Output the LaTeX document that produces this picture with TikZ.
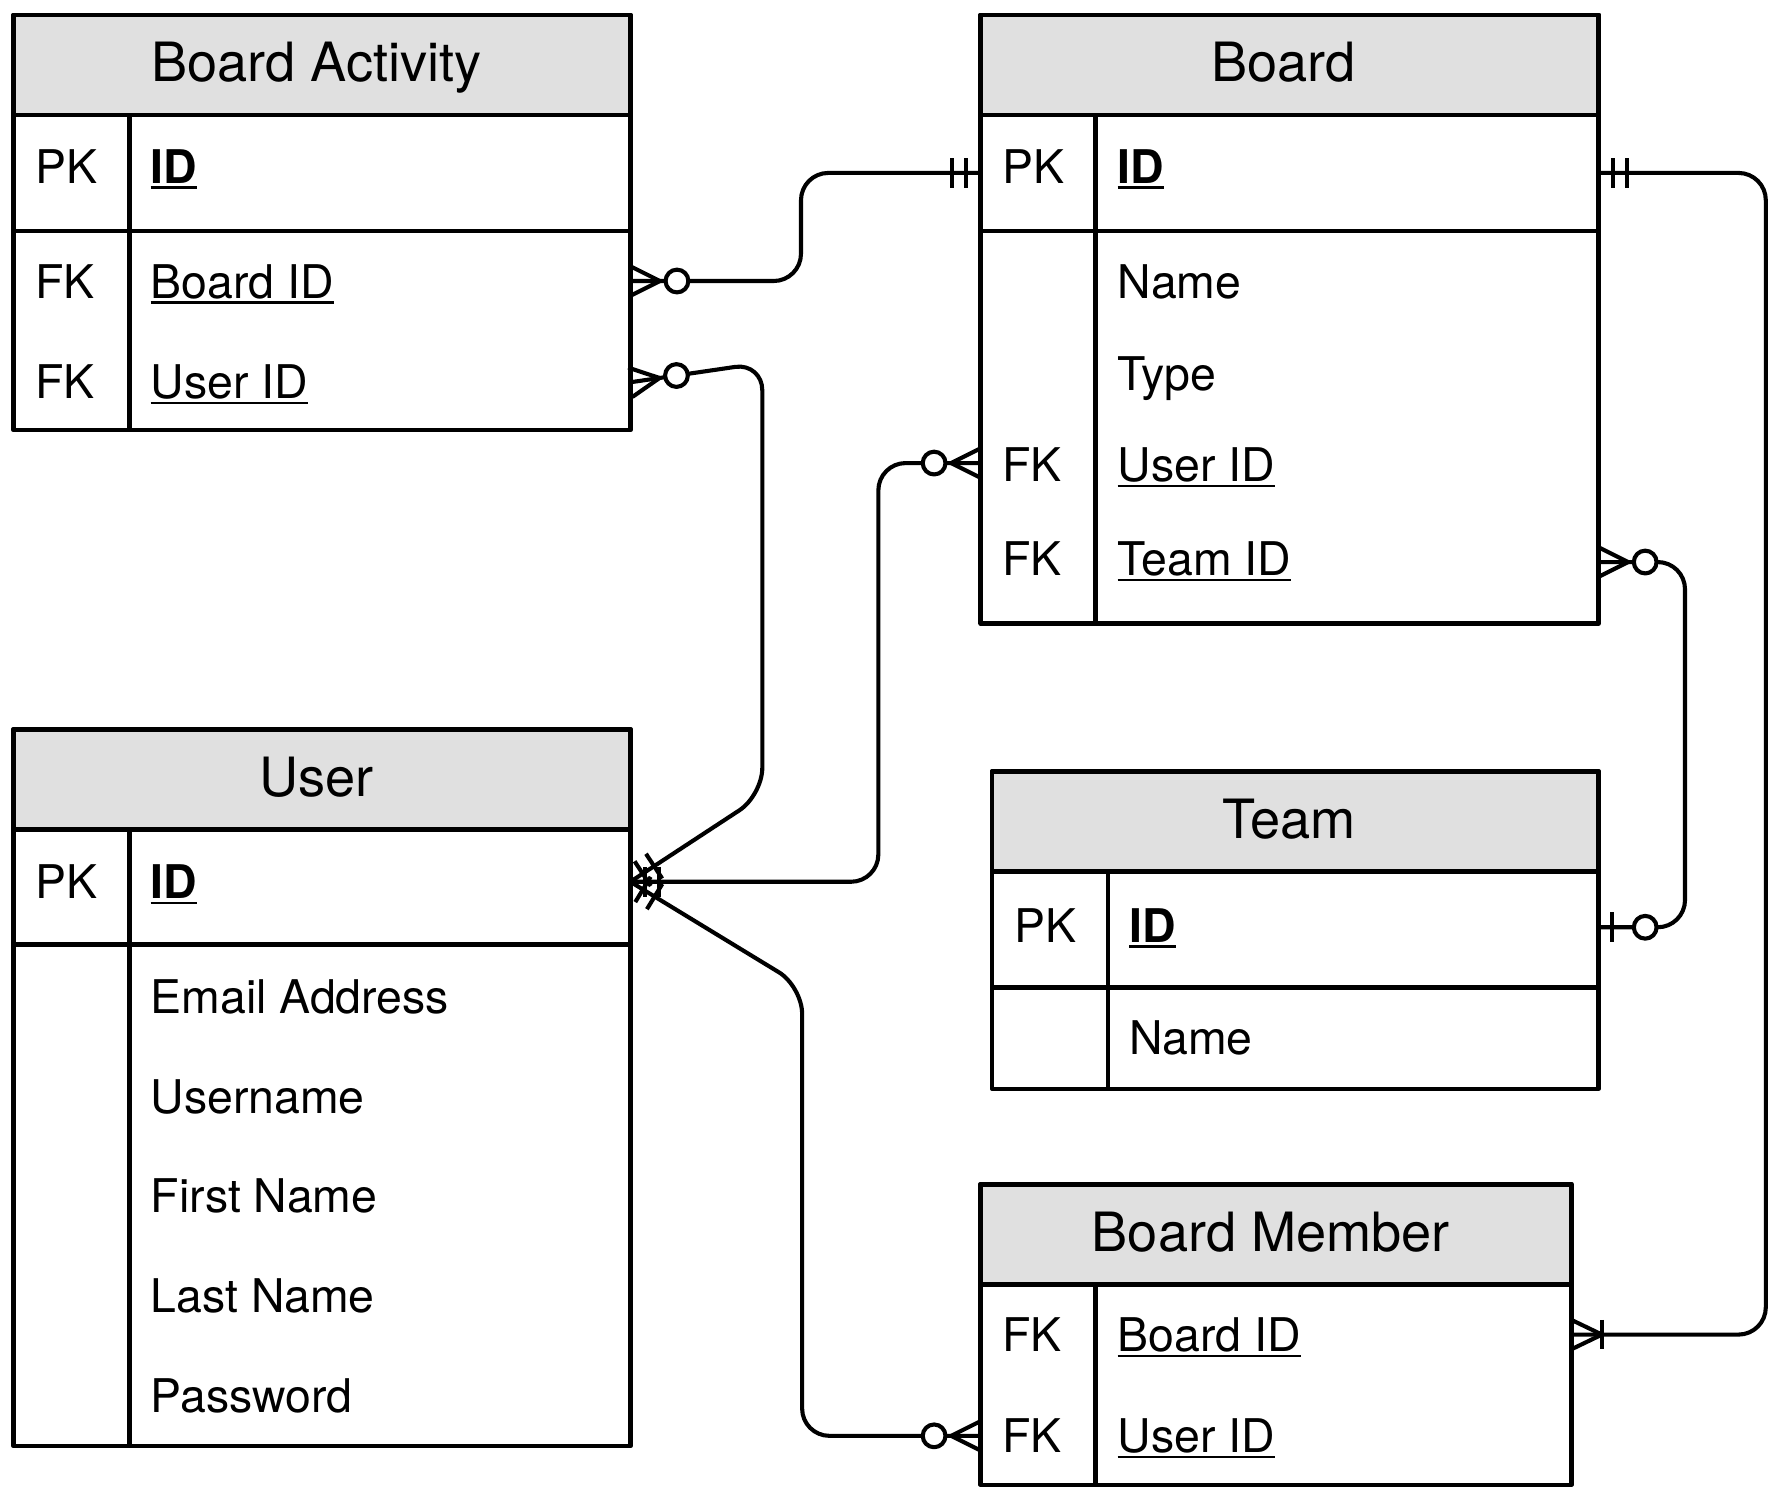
\documentclass[tikz,border=0pt]{standalone}
\usepackage{fontspec}
\setmainfont{TeX Gyre Heros}
\usetikzlibrary{calc}
\definecolor{hdrgray}{RGB}{224,224,224}
\newcommand{\myul}[1]{\setbox0\hbox{#1}\rlap{\rule[-2.5pt]{\wd0}{1.05pt}}\box0}
\newcommand{\crowft}[3]{%
  \draw[mk] ($(#1)!6.5pt!90:(#2)$) -- ($(#1)!#3!(#2)$) -- ($(#1)!6.5pt!-90:(#2)$);}
\newcommand{\barmk}[3]{%
  \path ($(#1)!#3!(#2)$) coordinate (mkp);
  \draw[mk] ($(mkp)!6.5pt!90:(#2)$) -- ($(mkp)!6.5pt!-90:(#2)$);}
\newcommand{\ringmk}[3]{%
  \path ($(#1)!#3!(#2)$) coordinate (mkp);
  \draw[ring] (mkp) circle[radius=5pt];}
\begin{document}
\begin{tikzpicture}[x=0.5pt,y=-0.5pt,line join=round,
  box/.style={draw=black, line width=2pt, inner sep=0pt, outer sep=0pt},
  hdr/.style={box, fill=hdrgray},
  rowline/.style={line width=2pt},
  htxt/.style={anchor=base, inner sep=0pt, font=\fontsize{23.8}{28}\selectfont},
  ftxt/.style={anchor=base west, inner sep=0pt, font=\fontsize{20.4}{24}\selectfont},
  conn/.style={line width=1.8pt, rounded corners=12pt},
  mk/.style={line width=1.8pt},
  ring/.style={line width=1.8pt, fill=white}]
\useasboundingbox[fill=white] (0,0) rectangle (1568,1320);

% ---------------- Board Activity
\node[box, minimum width=271pt, minimum height=182.5pt] (ba) at (283,195.5) {};
\node[hdr, minimum width=271pt, minimum height=44pt] (baH) at (283,57) {};
\node[htxt] (baT) at (278,72) {Board Activity};
\draw[rowline] (12,203) -- (554,203);
\draw[rowline] (114,101) -- (114,378);
\node[ftxt] (baK1) at (30.5,161) {PK};
\node[ftxt] (baF1) at (132,161) {\myul{\textbf{ID}}};
\node[ftxt] (baK2) at (30.5,262) {FK};
\node[ftxt] (baF2) at (132,262) {\myul{Board ID}};
\node[ftxt] (baK3) at (30.5,350) {FK};
\node[ftxt] (baF3) at (132,350) {\myul{User ID}};

% ---------------- Board
\node[box, minimum width=271.5pt, minimum height=267.5pt] (bd) at (1133.5,280.5) {};
\node[hdr, minimum width=271.5pt, minimum height=44pt] (bdH) at (1133.5,57) {};
\node[htxt] (bdT) at (1128,72) {Board};
\draw[rowline] (862,203) -- (1405,203);
\draw[rowline] (963,101) -- (963,548);
\node[ftxt] (bdK1) at (880.5,161) {PK};
\node[ftxt] (bdF1) at (982,161) {\myul{\textbf{ID}}};
\node[ftxt] (bdF2) at (982,262) {Name};
\node[ftxt] (bdF3) at (982,343) {Type};
\node[ftxt] (bdK4) at (880.5,423) {FK};
\node[ftxt] (bdF4) at (982,423) {\myul{User ID}};
\node[ftxt] (bdK5) at (880.5,506) {FK};
\node[ftxt] (bdF5) at (982,506) {\myul{Team ID}};

% ---------------- User
\node[box, minimum width=271pt, minimum height=315pt] (us) at (283,956) {};
\node[hdr, minimum width=271pt, minimum height=44pt] (usH) at (283,685) {};
\node[htxt] (usT) at (278.5,700) {User};
\draw[rowline] (12,830) -- (554,830);
\draw[rowline] (114,729) -- (114,1271);
\node[ftxt] (usK1) at (30.5,789.5) {PK};
\node[ftxt] (usF1) at (132,789.5) {\myul{\textbf{ID}}};
\node[ftxt] (usF2) at (132,890.5) {Email Address};
\node[ftxt] (usF3) at (132,978.5) {Username};
\node[ftxt] (usF4) at (132,1066) {First Name};
\node[ftxt] (usF5) at (132,1153.5) {Last Name};
\node[ftxt] (usF6) at (132,1241.5) {Password};

% ---------------- Team
\node[box, minimum width=266.5pt, minimum height=139.5pt] (tm) at (1138.5,817.5) {};
\node[hdr, minimum width=266.5pt, minimum height=44pt] (tmH) at (1138.5,722) {};
\node[htxt] (tmT) at (1133,737) {Team};
\draw[rowline] (872,868) -- (1405,868);
\draw[rowline] (974,766) -- (974,957);
\node[ftxt] (tmK1) at (891.5,828) {PK};
\node[ftxt] (tmF1) at (992,828) {\myul{\textbf{ID}}};
\node[ftxt] (tmF2) at (992,927) {Name};

% ---------------- Board Member
\node[box, minimum width=259.5pt, minimum height=132pt] (bm) at (1121.5,1173) {};
\node[hdr, minimum width=259.5pt, minimum height=44pt] (bmH) at (1121.5,1085) {};
\node[htxt] (bmT) at (1117,1100) {Board Member};
\draw[rowline] (963,1129) -- (963,1305);
\node[ftxt] (bmK1) at (880.5,1188) {FK};
\node[ftxt] (bmF1) at (982,1188) {\myul{Board ID}};
\node[ftxt] (bmK2) at (880.5,1276.5) {FK};
\node[ftxt] (bmF2) at (982,1276.5) {\myul{User ID}};

% ---------------- connection points
\coordinate (baB) at (554,247);
\coordinate (baU) at (554,336);
\coordinate (bPKl) at (862,152);
\coordinate (bPKr) at (1405,152);
\coordinate (bU) at (862,407);
\coordinate (bT) at (1405,494);
\coordinate (uPK) at (554,775);
\coordinate (tPK) at (1405,815);
\coordinate (bmB) at (1381,1173);
\coordinate (bmU) at (862,1262);

% ---------------- connectors
\draw[conn] (baB) -- (704,247) -- (704,152) -- (bPKl);
\draw[conn] (baU) -- (670,319) -- (670,699) -- (uPK);
\draw[conn] (uPK) -- (772,775) -- (772,407) -- (bU);
\draw[conn] (uPK) -- (705,867) -- (705,1262) -- (bmU);
\draw[conn] (bPKr) -- (1552,152) -- (1552,1173) -- (bmB);
\draw[conn] (bT) -- (1481,494) -- (1481,815) -- (tPK);

% ---------------- end marks
% Board Activity.BoardID : zero or many
\crowft{baB}{704,247}{13pt} \ringmk{baB}{704,247}{20.5pt}
% Board.PK left : one and only one
\barmk{bPKl}{704,152}{6.5pt} \barmk{bPKl}{704,152}{12.5pt}
% Board Activity.UserID : zero or many
\crowft{baU}{670,319}{13pt} \ringmk{baU}{670,319}{20.5pt}
% User.PK : one and only one (three connectors)
\barmk{uPK}{670,699}{6.5pt} \barmk{uPK}{670,699}{12.5pt}
\barmk{uPK}{772,775}{6.5pt} \barmk{uPK}{772,775}{12.5pt}
\barmk{uPK}{705,867}{6.5pt} \barmk{uPK}{705,867}{12.5pt}
% Board.UserID : zero or many
\crowft{bU}{772,407}{13pt} \ringmk{bU}{772,407}{20.5pt}
% Board Member.UserID : zero or many
\crowft{bmU}{705,1262}{13pt} \ringmk{bmU}{705,1262}{20.5pt}
% Board.PK right : one and only one
\barmk{bPKr}{1552,152}{6.5pt} \barmk{bPKr}{1552,152}{12.5pt}
% Board Member.BoardID : one or many
\crowft{bmB}{1552,1173}{13.5pt} \barmk{bmB}{1552,1173}{13.5pt}
% Board.TeamID : zero or many
\crowft{bT}{1481,494}{13pt} \ringmk{bT}{1481,494}{20.5pt}
% Team.PK : zero or one
\barmk{tPK}{1481,815}{6pt} \ringmk{tPK}{1481,815}{20.5pt}
\end{tikzpicture}
\end{document}
